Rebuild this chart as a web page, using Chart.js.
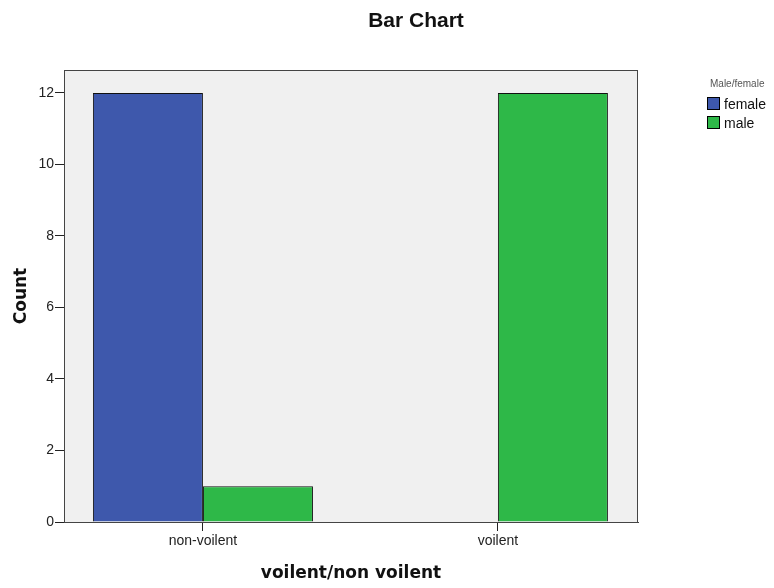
<!DOCTYPE html>
<html>
<head>
<meta charset="utf-8">
<title>Bar Chart</title>
<script src="https://cdn.jsdelivr.net/npm/chart.js@4/dist/chart.umd.min.js"></script>
<style>
    html, body { margin: 0; padding: 0; background: #fff; }
    #wrap { position: relative; width: 774px; height: 588px; }
    #title {
        position: absolute; left: 316px; width: 200px; top: 8px;
        text-align: center; font: bold 21px/24px "Liberation Sans", Arial, sans-serif; color: #111;
    }
    #legend {
        position: absolute; left: 707px; top: 78px;
        font-family: "Liberation Sans", Arial, sans-serif; color: #111;
    }
    #legend .ttl { font-size: 10px; color: #555; margin-bottom: 5px; padding-left: 3px; }
    #legend .row { display: flex; align-items: center; height: 19px; font-size: 14px; }
    #legend .box { width: 11px; height: 11px; border: 1px solid #000; margin-right: 4px; }
</style>
</head>
<body>
<div id="wrap">
    <canvas id="barChart" width="774" height="588"></canvas>
    <div id="title">Bar Chart</div>
    <div id="legend"></div>
</div>
<script>
// dati
const categories = ['non-voilent', 'voilent'];
const femaleCounts = [12, 0];
const maleCounts = [1, 12];
const seriesNames = ['female', 'male'];
const yTicks = [0, 2, 4, 6, 8, 10, 12];

const seriesColors = ['#3E58AC', '#2EB848'];

// sfondo grigio e bordo dell'area del grafico
const plotBackground = {
    id: 'plotBackground',
    beforeDraw(chart) {
        const a = chart.chartArea;
        const ctx = chart.ctx;
        ctx.save();
        ctx.fillStyle = '#F0F0F0';
        ctx.fillRect(a.left, a.top, a.right - a.left, a.bottom - a.top);
        ctx.restore();
    },
    afterDatasetsDraw(chart) {
        const a = chart.chartArea;
        const ctx = chart.ctx;
        ctx.save();
        ctx.strokeStyle = '#444';
        ctx.lineWidth = 1;
        ctx.strokeRect(a.left + 0.5, a.top + 0.5, a.right - a.left - 1, a.bottom - a.top);
        ctx.restore();
    }
};

const tickFont = { family: '"Liberation Sans", Arial, sans-serif', size: 14 };
const titleFont = { family: '"DejaVu Sans", Verdana, sans-serif', size: 17, weight: 'bold' };

const chart = new Chart(document.getElementById('barChart'), {
    type: 'bar',
    data: {
        labels: categories,
        datasets: [
            { label: seriesNames[0], data: femaleCounts, backgroundColor: seriesColors[0], borderColor: '#111', borderWidth: 1 },
            { label: seriesNames[1], data: maleCounts, backgroundColor: seriesColors[1], borderColor: '#111', borderWidth: 1 }
        ]
    },
    options: {
        responsive: false,
        animation: false,
        layout: { padding: { left: 0, right: 136, top: 70, bottom: 0 } },
        datasets: { bar: { categoryPercentage: 0.746, barPercentage: 1.0 } },
        plugins: {
            legend: { display: false },
            tooltip: { enabled: false }
        },
        scales: {
            x: {
                grid: { offset: false, drawOnChartArea: false, drawTicks: true, tickLength: 9, color: '#222' },
                border: { display: true, color: '#444' },
                ticks: { color: '#222', font: tickFont, padding: 2 },
                title: { display: true, text: 'voilent/non voilent', color: '#111', font: titleFont, padding: { top: 4, bottom: 4 } },
                afterFit(scale) { scale.height = 66; },
                afterUpdate(scale) {
                    // categorie un po' più distanziate, come nell'originale
                    scale._startValue = -0.471;
                    scale._valueRange = 1.946;
                }
            },
            y: {
                min: 0,
                max: 12.64,
                grid: { drawOnChartArea: false, drawTicks: true, tickLength: 9, color: '#222' },
                border: { display: true, color: '#444' },
                ticks: { stepSize: 2, color: '#222', font: tickFont, padding: 1 },
                afterBuildTicks(scale) {
                    scale.ticks = yTicks.map(v => ({ value: v }));
                },
                title: { display: true, text: 'Count', color: '#111', font: titleFont, padding: { top: 11, bottom: 0 } },
                afterFit(scale) { scale.width = 64; }
            }
        }
    },
    plugins: [plotBackground]
});

// legenda HTML
function buildLegend() {
    const el = document.getElementById('legend');
    let html = '<div class="ttl">Male/female</div>';
    chart.data.datasets.forEach(ds => {
        html += '<div class="row"><span class="box" style="background:' + ds.backgroundColor + '"></span>' + ds.label + '</div>';
    });
    el.innerHTML = html;
}
buildLegend();
</script>
</body>
</html>
